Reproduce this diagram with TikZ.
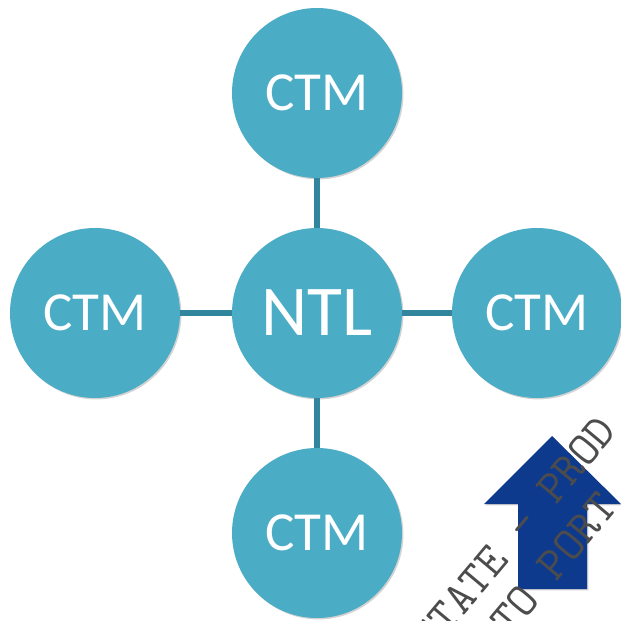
\documentclass[tikz,border=0pt]{standalone}
\usepackage{fontspec}
\setmainfont{Carlito}
\usetikzlibrary{shadows}
\definecolor{aqua}{HTML}{4BACC6}
\definecolor{aquadark}{HTML}{31859C}
\definecolor{arrowblue}{HTML}{0E3A8E}

\begin{document}
\begin{tikzpicture}[x=0.3mm,y=-0.3mm,
  hub/.style={circle,fill=aqua,text=white,minimum size=51mm,inner sep=0pt,
    drop shadow={shadow xshift=1.2pt,shadow yshift=-1.2pt,opacity=0.35}},
  link/.style={aquadark,line width=5pt},
  wmark/.style={gray!60!black,rotate=50,font=\ttfamily\fontsize{40}{44}\selectfont,inner sep=0pt}]
  \useasboundingbox (0,0) rectangle (621,621);
  \clip (0,0) rectangle (621,621);

  \node[hub,font=\fontsize{61}{64}\selectfont] (ntl) at (317,313) {NTL};
  \node[hub,font=\fontsize{47}{50}\selectfont] (top) at (317,93) {CTM};
  \node[hub,font=\fontsize{47}{50}\selectfont] (left) at (95,313) {CTM};
  \node[hub,font=\fontsize{47}{50}\selectfont] (right) at (537,313) {CTM};
  \node[hub,font=\fontsize{47}{50}\selectfont] (bottom) at (317,533) {CTM};

  \draw[link] (ntl)--(top);
  \draw[link] (ntl)--(left);
  \draw[link] (ntl)--(right);
  \draw[link] (ntl)--(bottom);

  % up arrow
  \fill[arrowblue,drop shadow={shadow xshift=1.2pt,shadow yshift=-1.2pt,opacity=0.35}]
    (552,436)--(621,504)--(587,504)--(587,589)--(518,589)--(518,504)--(484,504)--cycle;

  % watermark
  \node[wmark,anchor=mid west] (mark1) at (430,652) {STATE — PROD};
  \node[wmark,anchor=mid west] (mark2) at (508,636) {TO PORT};
\end{tikzpicture}
\end{document}
